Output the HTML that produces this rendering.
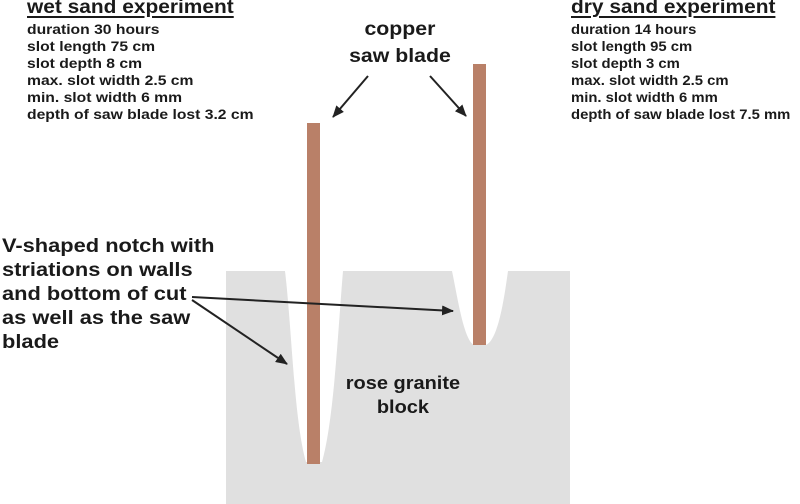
<!DOCTYPE html>
<html><head><style>
body{margin:0;width:800px;height:504px;background:#fff;overflow:hidden;position:relative;font-family:"Liberation Sans",sans-serif;font-weight:bold;color:#1a1a1a}
.t{position:absolute;white-space:nowrap;transform-origin:0 0}
.h{font-size:19px;text-decoration:underline;text-decoration-thickness:2px;text-underline-offset:3px;transform:scaleX(1.1)}
.s{font-size:14px;line-height:17px;transform:scaleX(1.12)}
.l{font-size:19px;line-height:24px;transform:scaleX(1.15)}
</style></head><body>
<svg width="800" height="504" style="position:absolute;left:0;top:0">
<defs><marker id="a" markerWidth="12" markerHeight="10" refX="11" refY="5" orient="auto" markerUnits="userSpaceOnUse"><path d="M0,0 L12,5 L0,10 z" fill="#222"/></marker></defs>
<rect x="226" y="271" width="344" height="233" fill="#e0e0e0"/>
<path d="M285,271 C292,330 294,420 306,462 L322,462 C334,420 338,330 343,271 Z" fill="#fff"/>
<path d="M452,271 C458,300 464,340 474,345 L486,345 C498,340 504,300 508,271 Z" fill="#fff"/>
<rect x="307" y="123" width="13" height="341" fill="#b98068"/>
<rect x="473" y="64" width="13" height="281" fill="#b98068"/>
<g stroke="#222" stroke-width="2" fill="none" marker-end="url(#a)">
<line x1="368" y1="76" x2="333" y2="117"/>
<line x1="430" y1="76" x2="466" y2="116"/>
<line x1="192" y1="297" x2="453" y2="311"/>
<line x1="192" y1="300" x2="287" y2="364"/>
</g>
</svg>
<div class="t h" style="left:27px;top:-3px">wet sand experiment</div>
<div class="t s" style="left:27px;top:21px">duration 30 hours<br>slot length 75 cm<br>slot depth 8 cm<br>max. slot width 2.5 cm<br>min. slot width 6 mm<br>depth of saw blade lost 3.2 cm</div>
<div class="t h" style="left:571px;top:-3px">dry sand experiment</div>
<div class="t s" style="left:571px;top:21px;transform:scaleX(1.06)">duration 14 hours<br>slot length 95 cm<br>slot depth 3 cm<br>max. slot width 2.5 cm<br>min. slot width 6 mm<br>depth of saw blade lost 7.5 mm</div>
<div class="t" style="left:335px;top:16px;width:116px;text-align:center;font-size:19px;line-height:27px;transform:scaleX(1.12)">copper<br>saw blade</div>
<div class="t l" style="left:2px;top:235px">V-shaped notch with<br>striations on walls<br>and bottom of cut<br>as well as the saw<br>blade</div>
<div class="t" style="left:343px;top:371px;width:108px;text-align:center;font-size:18px;line-height:24px;transform:scaleX(1.11)">rose granite<br>block</div>
</body></html>
